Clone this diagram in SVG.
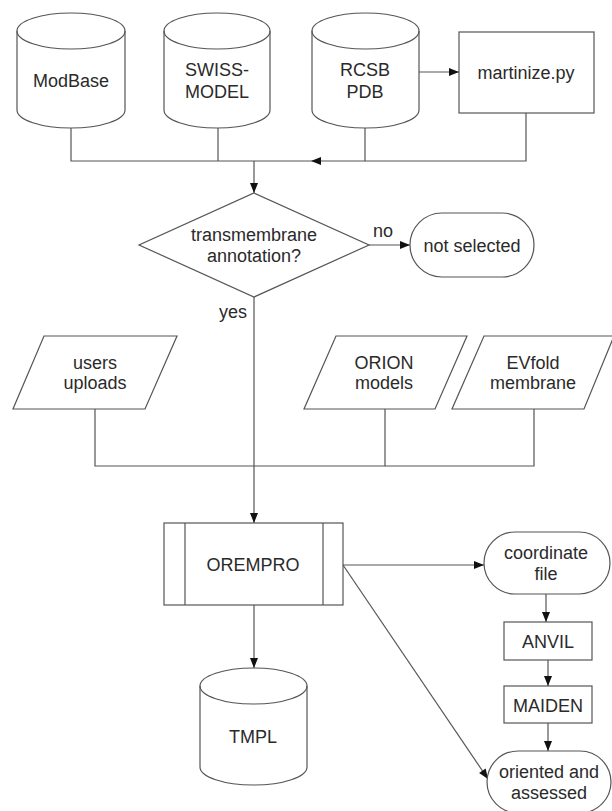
<svg xmlns="http://www.w3.org/2000/svg" width="612" height="811" viewBox="0 0 612 811">
<style>
.s{fill:#fff;stroke:#555;stroke-width:1.2}
.c{fill:none;stroke:#555;stroke-width:1.2}
.a{marker-end:url(#ah)}
text{font-family:"Liberation Sans",Arial,sans-serif;font-size:18px;fill:#2a2a2a;text-anchor:middle}
</style>
<defs>
<marker id="ah" viewBox="0 0 10 8" refX="10" refY="4" markerWidth="11" markerHeight="8" markerUnits="userSpaceOnUse" orient="auto">
<path d="M0,0 L10,4 L0,8 Z" fill="#111"/>
</marker>
</defs>
<rect width="612" height="811" fill="#fff"/>
<g id="connectors">
<path class="c" d="M71,128 V161 H254"/>
<path class="c" d="M218,128 V161"/>
<path class="c a" d="M254,161 V193"/>
<path class="c a" d="M365,128 V161 H311"/>
<path class="c" d="M311,161 H254"/>
<path class="c" d="M526,113 V161 H365"/>
<path class="c a" d="M419,72 H459"/>
<path class="c a" d="M369,245 H410"/>
<path class="c a" d="M254,297 V523"/>
<path class="c" d="M95,409 V466 H254"/>
<path class="c" d="M385,409 V466 H254"/>
<path class="c" d="M534,409 V466 H385"/>
<path class="c a" d="M254,605 V668"/>
<path class="c a" d="M343,565 H484"/>
<path class="c a" d="M343,565 L488,779"/>
<path class="c a" d="M546,594 V622"/>
<path class="c a" d="M548,660 V686"/>
<path class="c a" d="M548,723 V751"/>
<text x="383" y="237">no</text>
<text x="233" y="318">yes</text>
</g>
<g id="modbase">
<path class="s" d="M17,31 V110 A54,18 0 0 0 125,110 V31 A54,18 0 0 0 17,31 Z"/>
<path class="c" d="M17,31 A54,18 0 0 0 125,31"/>
<text x="71" y="87">ModBase</text>
</g>
<g id="swissmodel">
<path class="s" d="M164,31 V110 A53,18 0 0 0 270,110 V31 A53,18 0 0 0 164,31 Z"/>
<path class="c" d="M164,31 A53,18 0 0 0 270,31"/>
<text x="217" y="76">SWISS-</text>
<text x="217" y="98">MODEL</text>
</g>
<g id="rcsbpdb">
<path class="s" d="M312,31 V110 A53.5,18 0 0 0 419,110 V31 A53.5,18 0 0 0 312,31 Z"/>
<path class="c" d="M312,31 A53.5,18 0 0 0 419,31"/>
<text x="365" y="76">RCSB</text>
<text x="365" y="98">PDB</text>
</g>
<g id="martinize">
<rect class="s" x="459" y="32" width="135" height="81"/>
<text x="526" y="79">martinize.py</text>
</g>
<g id="decision">
<path class="s" d="M254,193 L369,245 L254,297 L139,245 Z"/>
<text x="254" y="241">transmembrane</text>
<text x="254" y="262">annotation?</text>
</g>
<g id="notselected">
<rect class="s" x="410" y="213" width="124" height="64" rx="32" ry="32"/>
<text x="472" y="252">not selected</text>
</g>
<g id="usersuploads">
<path class="s" d="M44,336 H177 L145,409 H13 Z"/>
<text x="95" y="369">users</text>
<text x="95" y="389">uploads</text>
</g>
<g id="orion">
<path class="s" d="M336,336 H467 L435,409 H304 Z"/>
<text x="384" y="369">ORION</text>
<text x="384" y="389">models</text>
</g>
<g id="evfold">
<path class="s" d="M484,336 H614 L584,409 H452 Z"/>
<text x="533" y="369">EVfold</text>
<text x="533" y="389">membrane</text>
</g>
<g id="orempro">
<rect class="s" x="164" y="523" width="179" height="82"/>
<path class="c" d="M185,523 V605 M323,523 V605"/>
<text x="253" y="571">OREMPRO</text>
</g>
<g id="tmpl">
<path class="s" d="M200,686 V767 A53.5,18 0 0 0 307,767 V686 A53.5,18 0 0 0 200,686 Z"/>
<path class="c" d="M200,686 A53.5,18 0 0 0 307,686"/>
<text x="253" y="743">TMPL</text>
</g>
<g id="coordinatefile">
<rect class="s" x="484" y="532" width="126" height="62" rx="31" ry="31"/>
<text x="546" y="559">coordinate</text>
<text x="546" y="580">file</text>
</g>
<g id="anvil">
<rect class="s" x="504" y="622" width="88" height="38"/>
<text x="548" y="648">ANVIL</text>
</g>
<g id="maiden">
<rect class="s" x="504" y="686" width="88" height="37"/>
<text x="548" y="712">MAIDEN</text>
</g>
<g id="oriented">
<rect class="s" x="487" y="751" width="124" height="62" rx="31" ry="31"/>
<text x="549" y="778">oriented and</text>
<text x="549" y="799">assessed</text>
</g>
</svg>
